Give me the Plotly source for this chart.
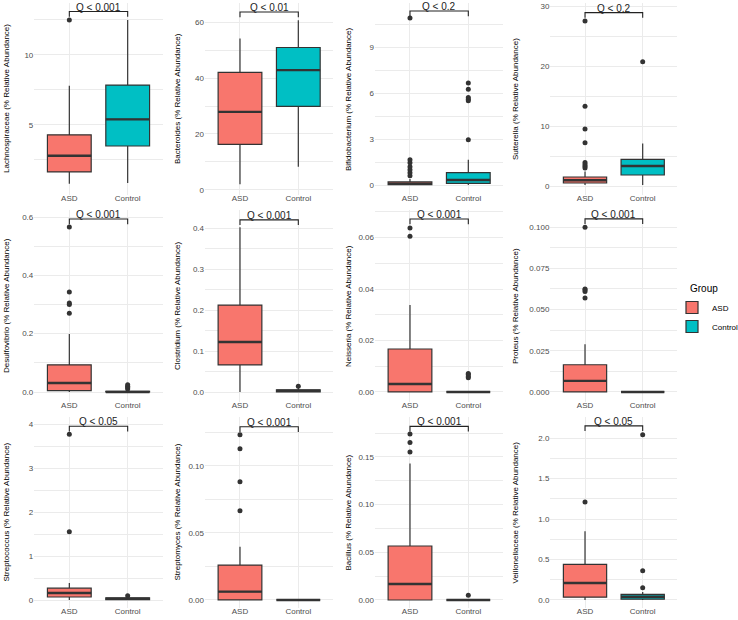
import plotly.graph_objects as go

# ---------------- data ----------------
genus = ["Lachnospiraceae", "Bacteroides", "Bifidobacterium", "Sutterella",
         "Desulfovibrio", "Clostridium", "Neisseria", "Proteus",
         "Streptococcus", "Streptomyces", "Bacillus", "Veillonellaceae"]
groups = ["ASD", "Control"]
q_label = ["Q < 0.001", "Q < 0.01", "Q < 0.2", "Q < 0.2",
           "Q < 0.001", "Q < 0.001", "Q < 0.001", "Q < 0.001",
           "Q < 0.05", "Q < 0.001", "Q < 0.001", "Q < 0.05"]
bracket_y = [13.1, 63.6, 11.35, 28.9, 0.593, 0.42, 0.0672, 0.105, 3.95, 0.129, 0.182, 2.15]

# ASD box statistics
asd_low = [0.8, 2.0, 0.0, 0.17, 0.0, 0.0, 0.0, 0.0, 0.0, 0.0, 0.0, 0.0]
asd_q1 = [1.65, 16.3, 0.02, 0.5, 0.005, 0.066, 0.0, 0.0, 0.07, 0.0, 0.0, 0.035]
asd_med = [2.8, 27.9, 0.08, 0.95, 0.031, 0.122, 0.0031, 0.0067, 0.16, 0.0062, 0.0168, 0.21]
asd_q3 = [4.3, 42.0, 0.2, 1.5, 0.093, 0.212, 0.0167, 0.0165, 0.27, 0.026, 0.0566, 0.44]
asd_high = [7.8, 54.1, 0.4, 2.4, 0.199, 0.402, 0.0338, 0.029, 0.39, 0.0396, 0.143, 0.85]
asd_out = [[12.5], [], [0.6, 0.8, 1.0, 1.2, 1.45, 1.65, 10.9], [3.0, 3.3, 3.6, 3.9, 7.2, 9.5, 13.3, 27.5],
           [0.27, 0.30, 0.305, 0.343, 0.566], [], [0.0605, 0.0637], [0.057, 0.061, 0.062, 0.0625, 0.100],
           [1.55, 3.77], [0.0664, 0.088, 0.1127, 0.123], [0.155, 0.165, 0.174], [1.21]]

# Control box statistics
ctl_low = [0.85, 8.3, 0.0, 0.17, 0.0, 0.0, 0.0, 0.0, 0.0, 0.0, 0.0, 0.0]
ctl_q1 = [3.5, 29.9, 0.11, 1.83, 0.0, 0.0005, 0.0, 0.0, 0.01, 0.0, 0.0, 0.01]
ctl_med = [5.4, 42.8, 0.33, 3.33, 0.0, 0.003, 0.0, 0.0, 0.03, 0.0, 0.0, 0.04]
ctl_q3 = [7.85, 50.9, 0.81, 4.45, 0.002, 0.005, 0.0, 0.0, 0.05, 0.0, 0.0, 0.07]
ctl_high = [12.5, 60.6, 1.65, 7.1, 0.004, 0.01, 0.0, 0.0, 0.06, 0.0, 0.0, 0.10]
ctl_out = [[], [], [2.96, 5.5, 5.6, 5.7, 6.25, 6.65], [20.7],
           [0.01, 0.015, 0.02, 0.025], [0.014], [0.0055, 0.006, 0.0068, 0.0072], [],
           [0.1], [], [0.005], [0.15, 0.36, 2.04]]

# y axes: ranges, tick values and labels
y_range = [[0.0, 13.71], [-1.8, 66.8], [-0.65, 11.87], [-1.5, 30.5],
           [-0.0343, 0.624], [-0.0244, 0.444], [-0.0039, 0.0707], [-0.0061, 0.1104],
           [-0.18, 4.16], [-0.006, 0.1363], [-0.0084, 0.1918], [-0.099, 2.26]]
y_ticks = [[5, 10], [0, 20, 40, 60], [0, 3, 6, 9, 12], [0, 10, 20, 30],
           [0, 0.2, 0.4, 0.6], [0, 0.1, 0.2, 0.3, 0.4], [0, 0.02, 0.04, 0.06],
           [0, 0.025, 0.05, 0.075, 0.1],
           [0, 1, 2, 3, 4], [0, 0.05, 0.10], [0, 0.05, 0.10, 0.15], [0, 0.5, 1.0, 1.5, 2.0]]
y_ticktext = [["5", "10"], ["0", "20", "40", "60"], ["0", "3", "6", "9", "12"], ["0", "10", "20", "30"],
              ["0.0", "0.2", "0.4", "0.6"], ["0.0", "0.1", "0.2", "0.3", "0.4"],
              ["0.00", "0.02", "0.04", "0.06"], ["0.000", "0.025", "0.050", "0.075", "0.100"],
              ["0", "1", "2", "3", "4"], ["0.00", "0.05", "0.10"], ["0.00", "0.05", "0.10", "0.15"],
              ["0.0", "0.5", "1.0", "1.5", "2.0"]]
y_minor = [2.5, 10, 1.5, 5, 0.1, 0.05, 0.01, 0.0125, 0.5, 0.025, 0.025, 0.25]

# ---------------- layout geometry (pixels) ----------------
W, H = 738, 620
col_px = [(34.3, 162.7), (205.0, 333.3), (375.0, 503.3), (550.4, 677.3)]
row_px = [(3, 195), (210, 402), (417, 608)]
title_x_px = [6, 177, 348, 515]

FONT = "Liberation Sans, Arial, Helvetica, sans-serif"
FILL = {"ASD": "#F8766D", "Control": "#00BFC4"}
DARK = "#333333"
GRID = "#EBEBEB"
BOXW = 0.75

fig = go.Figure()
layout = dict(
    width=W, height=H, margin=dict(l=0, r=0, t=0, b=0, autoexpand=False),
    paper_bgcolor="white", plot_bgcolor="white",
    font=dict(family=FONT, size=8, color="#4D4D4D"),
    showlegend=True,
    legend=dict(x=672 / W, y=1 - 293 / H, xanchor="left", yanchor="top",
                font=dict(size=8, color="black"), bgcolor="rgba(0,0,0,0)",
                tracegroupgap=0, itemwidth=30),
)
shapes = []
annotations = [dict(x=688 / W, y=1 - 288 / H, xref="paper", yref="paper", text="Group",
                    showarrow=False, xanchor="left", yanchor="middle",
                    font=dict(size=10, color="black", family=FONT))]

for i, name in enumerate(genus):
    r, c = divmod(i, 4)
    n = i + 1
    xa = "x" if n == 1 else f"x{n}"
    ya = "y" if n == 1 else f"y{n}"
    xkey = "xaxis" if n == 1 else f"xaxis{n}"
    ykey = "yaxis" if n == 1 else f"yaxis{n}"
    x0, x1 = col_px[c]
    t, b = row_px[r]
    layout[xkey] = dict(domain=[x0 / W, x1 / W], range=[-0.6, 1.6], anchor=ya,
                        tickmode="array", tickvals=[0, 1], ticktext=groups,
                        showgrid=True, gridcolor=GRID, gridwidth=1.1, zeroline=False,
                        showline=False, ticks="", fixedrange=True, automargin=False,
                        ticklabelstandoff=-3)
    layout[ykey] = dict(domain=[1 - b / H, 1 - t / H], range=y_range[i], anchor=xa,
                        tickmode="array", tickvals=y_ticks[i], ticktext=y_ticktext[i],
                        showgrid=True, gridcolor=GRID, gridwidth=1.1, zeroline=False,
                        showline=False, ticks="", automargin=False,
                        minor=dict(dtick=y_minor[i], tick0=0, showgrid=True,
                                   gridcolor=GRID, gridwidth=0.55, ticks=""))

    stats = {"ASD": (asd_low[i], asd_q1[i], asd_med[i], asd_q3[i], asd_high[i], asd_out[i]),
             "Control": (ctl_low[i], ctl_q1[i], ctl_med[i], ctl_q3[i], ctl_high[i], ctl_out[i])}
    for k, g in enumerate(groups):
        lo, q1, md, q3, hi, out = stats[g]
        fig.add_trace(go.Box(
            x=[k], q1=[q1], median=[md], q3=[q3], lowerfence=[lo], upperfence=[hi],
            width=BOXW, whiskerwidth=0, boxpoints=False,
            fillcolor=FILL[g], line=dict(color=DARK, width=1.2),
            name=g, legendgroup=g, showlegend=(i == 0),
            xaxis=xa, yaxis=ya, hoverinfo="skip"))
        # thick median line
        fig.add_trace(go.Scatter(
            x=[k - BOXW / 2, k + BOXW / 2], y=[md, md], mode="lines",
            line=dict(color=DARK, width=2.4), showlegend=False,
            xaxis=xa, yaxis=ya, hoverinfo="skip"))
        if out:
            fig.add_trace(go.Scatter(
                x=[k] * len(out), y=out, mode="markers",
                marker=dict(color=DARK, size=5), showlegend=False,
                xaxis=xa, yaxis=ya, hoverinfo="skip"))

    # significance bracket
    span = y_range[i][1] - y_range[i][0]
    tip = 0.027 * span
    yb = bracket_y[i]
    shapes.append(dict(type="path", xref=xa, yref=ya,
                       path=f"M 0,{yb - tip} L 0,{yb} L 1,{yb} L 1,{yb - tip}",
                       line=dict(color="#222222", width=1.1)))
    annotations.append(dict(x=0.5, y=yb, xref=xa, yref=ya, text=q_label[i],
                            showarrow=False, yanchor="bottom", yshift=-3,
                            font=dict(size=10, color="#222222", family=FONT)))
    # y-axis title
    annotations.append(dict(x=title_x_px[c] / W, y=1 - (t + b) / 2 / H, xref="paper", yref="paper",
                            text=f"{name} (% Relative Abundance)", textangle=-90,
                            showarrow=False, xanchor="center", yanchor="middle",
                            font=dict(size=8, color="black", family=FONT)))

layout["shapes"] = shapes
layout["annotations"] = annotations
fig.update_layout(**layout)
fig.write_html("out.html",
               config={"displayModeBar": False},
               post_script="document.body.style.margin='0';document.body.style.overflow='hidden';")
